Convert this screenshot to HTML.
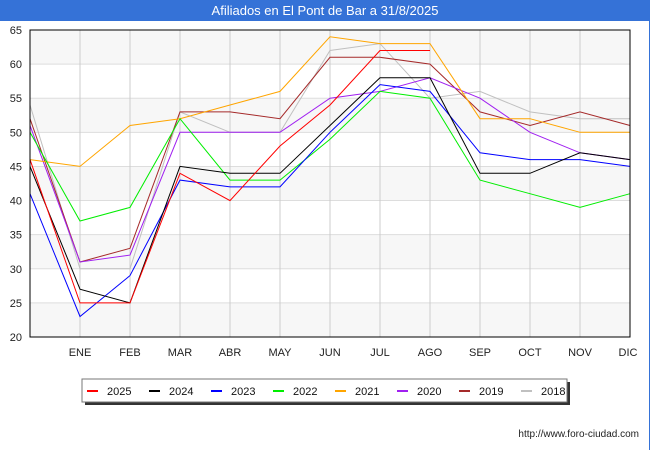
<!DOCTYPE html>
<html><head><meta charset="utf-8"><style>
body{margin:0;background:#fff;font-family:"Liberation Sans","DejaVu Sans",sans-serif;}
#wrap{position:relative;width:650px;height:450px;overflow:hidden;}
</style></head><body>
<div id="wrap">
<svg id="svg" width="650" height="450" xmlns="http://www.w3.org/2000/svg">
<rect x="0" y="0" width="650" height="21" fill="#3572d7"/>
<text x="325" y="15" text-anchor="middle" fill="#fff" font-size="13">Afiliados en El Pont de Bar a 31/8/2025</text>
<rect x="649" y="21" width="1" height="429" fill="#3572d7"/>
<g id="grid"></g>
<g id="series"></g>
<rect x="30" y="30" width="600" height="307" fill="none" stroke="#000" stroke-width="1"/>
<g id="legend"></g>
<text x="639" y="437" text-anchor="end" font-size="10" fill="#222">http://www.foro-ciudad.com</text>
</svg>
</div>
<script>
const months = ["","ENE","FEB","MAR","ABR","MAY","JUN","JUL","AGO","SEP","OCT","NOV","DIC"];
const yTicks = [20,25,30,35,40,45,50,55,60,65];
const seriesNames = ["2025","2024","2023","2022","2021","2020","2019","2018"];
const seriesColors = ["#ff0000","#000000","#0000ff","#00ee00","#ffa500","#a020f0","#a52a2a","#c0c0c0"];
const s2025 = [46,25,25,44,40,48,54,62,62];
const s2024 = [45,27,25,45,44,44,51,58,58,44,44,47,46];
const s2023 = [41,23,29,43,42,42,50,57,56,47,46,46,45];
const s2022 = [50,37,39,52,43,43,49,56,55,43,41,39,41];
const s2021 = [46,45,51,52,54,56,64,63,63,52,52,50,50];
const s2020 = [51,31,32,50,50,50,55,56,58,55,50,47,46];
const s2019 = [52,31,33,53,53,52,61,61,60,53,51,53,51];
const s2018 = [54,30,30,53,50,50,62,63,55,56,53,52,52];
const allSeries = [s2025,s2024,s2023,s2022,s2021,s2020,s2019,s2018];

const NS="http://www.w3.org/2000/svg";
const X0=30,X1=630,Y0=337,Y1=30,YMIN=20,YMAX=65;
function xs(i){return X0+(X1-X0)*i/(months.length-1);}
function ys(v){return Y0-(v-YMIN)/(YMAX-YMIN)*(Y0-Y1);}
function mk(tag,attrs,parent){const e=document.createElementNS(NS,tag);for(const k in attrs)e.setAttribute(k,attrs[k]);parent.appendChild(e);return e;}

const grid=document.getElementById('grid');
for(let i=0;i<yTicks.length-1;i++){
  if(i%2===0){
    const b=mk('rect',{x:X0,y:ys(yTicks[i+1]),width:X1-X0,height:ys(yTicks[i])-ys(yTicks[i+1]),fill:'#f7f7f7'},grid);
    
    
  }
}
yTicks.forEach(v=>{
  const l=mk('line',{x1:X0,x2:X1,y1:ys(v),y2:ys(v),stroke:'#dddddd','stroke-width':1},grid);
  
  
  const t=mk('text',{x:22,y:ys(v)+4,'text-anchor':'end','font-size':11,fill:'#222'},grid);
  t.textContent=v;
  
  
});
months.forEach((m,i)=>{
  if(i===0)return;
  const l=mk('line',{x1:xs(i),x2:xs(i),y1:Y1,y2:Y0,stroke:'#cccccc','stroke-width':1},grid);
  
  
  const t=mk('text',{x:xs(i)-(i===12?2:0),y:356,'text-anchor':'middle','font-size':11,fill:'#222'},grid);
  t.textContent=m;
  
  
});

const sg=document.getElementById('series');
for(let k=allSeries.length-1;k>=0;k--){
  const pts=allSeries[k].map((v,i)=>xs(i).toFixed(1)+','+ys(v).toFixed(1)).join(' ');
  const p=mk('polyline',{points:pts,fill:'none',stroke:seriesColors[k],'stroke-width':1},sg);
  
  
}

const lg=document.getElementById('legend');
const sh=mk('rect',{x:85,y:382,width:485,height:23,fill:'#333'},lg);


const bx=mk('rect',{x:82,y:379,width:485,height:23,fill:'#fff',stroke:'#777','stroke-width':1},lg);


seriesNames.forEach((n,k)=>{
  const x=87+k*62;
  const g=mk('g',{},lg);
  
  
  mk('rect',{x:x,y:390,width:11,height:2,fill:seriesColors[k]},g);
  const t=mk('text',{x:x+20,y:395,'font-size':11,fill:'#111'},g);
  t.textContent=n;
});
</script>
</body></html>
